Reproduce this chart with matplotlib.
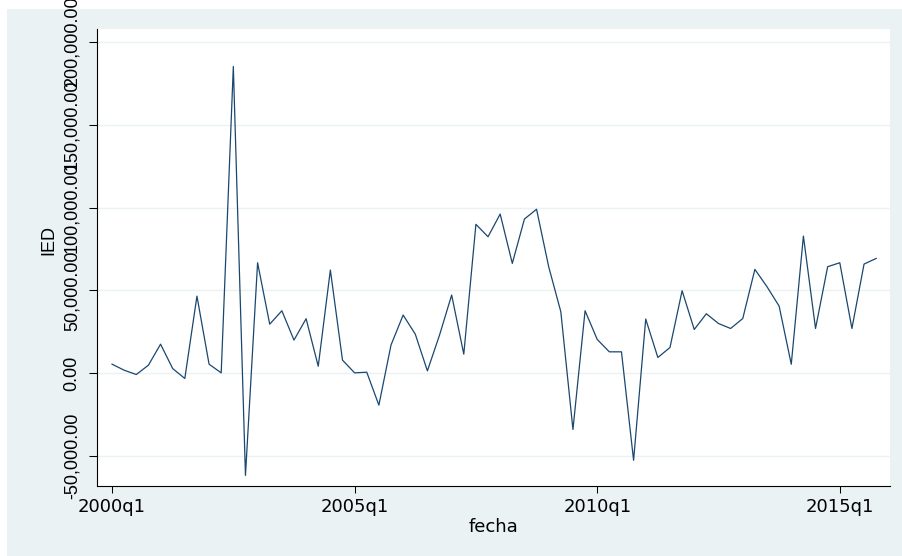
import numpy as np
import pandas as pd
import matplotlib
matplotlib.use("Agg")
import matplotlib.pyplot as plt
from matplotlib.patches import Rectangle
from matplotlib.ticker import FuncFormatter

# quarterly IED series, 2000q1 .. 2015q4
quarters = pd.period_range("2000Q1", "2015Q4", freq="Q")
ied = [5440, 1800, -800, 4840, 17530, 2800, -3200, 46550, 5440, 200,
       185200, -61700, 66700, 29600, 37700, 20000, 32900, 4200, 62300, 7900,
       200, 600, -19300, 17000, 35100, 23600, 1400, 23000, 47200, 11500,
       89900, 82400, 96100, 66300, 93100, 99000, 64300, 37100, -34000, 37700,
       20400, 12900, 12900, -52600, 32700, 9500, 15500, 49800, 26400, 35900,
       30000, 27000, 33000, 62700, 52200, 40500, 5400, 82800, 27000, 64300,
       66700, 27000, 65900, 69300]
xtick_labels = ["2000q1", "2005q1", "2010q1", "2015q1"]
yticks = [-50000, 0, 50000, 100000, 150000, 200000]

bg = "#EAF2F3"
navy = "#1A476F"

fig = plt.figure(figsize=(9.02, 5.56), dpi=100, facecolor="white")
fig.patches.append(Rectangle((7 / 902, 0), 1, 1 - 9 / 556, transform=fig.transFigure,
                             facecolor=bg, edgecolor="none", zorder=-5))

ax = fig.add_axes([97 / 902, 1 - 486 / 556, 793 / 902, 457 / 556])
ax.set_facecolor("white")

x = np.array([(q - quarters[0]).n for q in quarters])
ax.plot(x, ied, color=navy, lw=0.9, zorder=3)

ax.set_xlim(-1.24, 64.14)
ax.set_ylim(-68120, 207850)

tick_pos = [x[list(quarters.strftime("%Yq%q")).index(t)] for t in xtick_labels]
ax.set_xticks(tick_pos)
ax.set_xticklabels(xtick_labels, fontfamily="DejaVu Sans", fontsize=13)
ax.set_yticks(yticks)
ax.yaxis.set_major_formatter(FuncFormatter(lambda v, p: f"{v:,.2f}"))
ax.tick_params(axis="y", labelrotation=90)
for lab in ax.get_yticklabels():
    lab.set_va("center")
    lab.set_fontfamily("Liberation Sans")
    lab.set_fontsize(13)

ax.tick_params(axis="x", length=5, width=0.75, pad=4, colors="black")
ax.tick_params(axis="y", length=5.8, width=0.75, pad=6, colors="black")

ax.grid(axis="y", color=bg, lw=1.0, zorder=1)
ax.set_axisbelow(True)

for s in ["top", "right"]:
    ax.spines[s].set_visible(False)
for s in ["left", "bottom"]:
    ax.spines[s].set_linewidth(0.8)
    ax.spines[s].set_color("black")

ax.set_ylabel("IED", fontfamily="Liberation Sans", fontsize=13)
ax.yaxis.set_label_coords(-0.0504, 0.538)
ax.set_xlabel("fecha", fontfamily="DejaVu Sans", fontsize=13, va="top")
ax.xaxis.set_label_coords(0.5, -0.070)

fig.savefig("out.png", dpi=100, facecolor=fig.get_facecolor())
